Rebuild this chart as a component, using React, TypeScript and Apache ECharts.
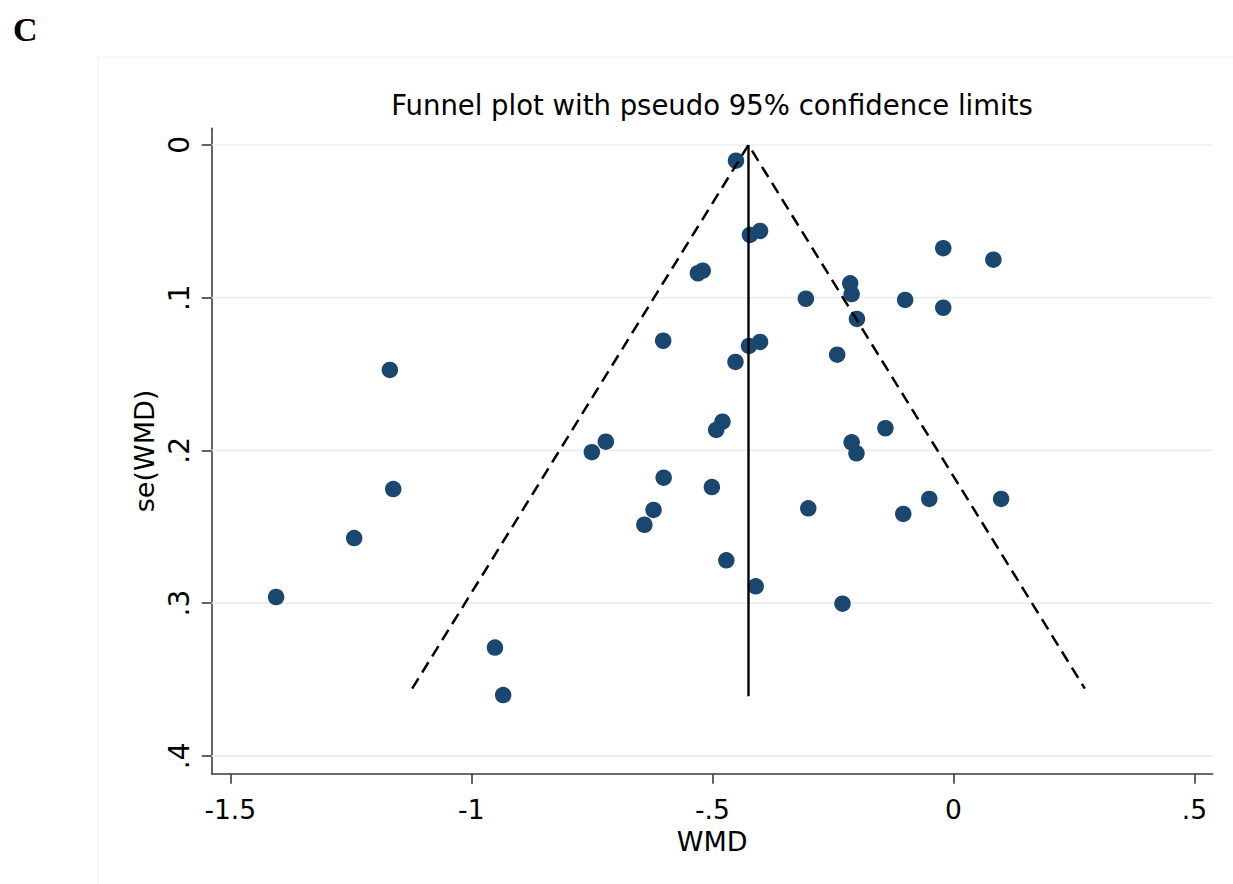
import React, { useEffect, useRef } from 'react';
import * as echarts from 'echarts';

// Study estimates (WMD) and their standard errors
const wmd = [
  -0.451, -0.422, -0.401, -0.530, -0.520, -0.021, 0.083, -0.214, -0.211, -0.306,
  -0.100, -0.021, -0.200, -0.602, -0.424, -0.401, -0.241, -0.452, -1.169, -0.479,
  -0.492, -0.141, -0.721, -0.750, -0.211, -0.201, -0.601, -1.162, -0.501, -0.622,
  -0.641, -0.301, -0.104, -0.050, 0.099, -1.243, -0.471, -0.410, -1.405, -0.230,
  -0.951, -0.934,
];
const seWmd = [
  0.0103, 0.0589, 0.0563, 0.0840, 0.0823, 0.0676, 0.0751, 0.0906, 0.0976, 0.1007,
  0.1015, 0.1066, 0.1139, 0.1282, 0.1316, 0.1290, 0.1373, 0.1421, 0.1473, 0.1812,
  0.1866, 0.1855, 0.1943, 0.2012, 0.1947, 0.2019, 0.2179, 0.2253, 0.2240, 0.2390,
  0.2487, 0.2379, 0.2416, 0.2318, 0.2318, 0.2574, 0.2720, 0.2890, 0.2960, 0.3004,
  0.3291, 0.3602,
];
const xTicks = [-1.5, -1, -0.5, 0, 0.5];
const yTicks = [0, 0.1, 0.2, 0.3, 0.4];
const pooled = -0.425;
const ciSeEnd = 0.356;
const lineSeEnd = 0.361;
const zCrit = 1.96;

const X_MIN = -1.5386;
const X_MAX = 0.538;
const Y_MIN = -0.0109;
const Y_MAX = 0.4117;

const FONT = 'DejaVu Sans';

const fmt = (v: number) => (v === 0 ? '0' : String(v).replace('0.', '.'));

export default function App() {
  const ref = useRef<HTMLDivElement>(null);
  useEffect(() => {
    if (!ref.current) return;
    const chart = echarts.init(ref.current, undefined, { renderer: 'svg' });
    const points = wmd.map((x, i) => [x, seWmd[i]]);
    const gridSeries = yTicks.map((v) => ({
      type: 'line',
      data: [
        [X_MIN, v],
        [X_MAX, v],
      ],
      symbol: 'none',
      silent: true,
      z: 1,
      lineStyle: { color: '#e6eef2', width: 1.6 },
    }));
    const option: any = {
      animation: false,
      backgroundColor: '#ffffff',
      title: {
        text: 'Funnel plot with pseudo 95% confidence limits',
        left: 712,
        top: 91,
        padding: 0,
        textAlign: 'center',
        textStyle: { fontFamily: FONT, fontSize: 27.5, fontWeight: 'normal', color: '#000' },
      },
      graphic: [
        {
          type: 'rect',
          shape: { x: 98, y: 57, width: 1200, height: 900 },
          style: { fill: 'none', stroke: '#f0f0f0', lineWidth: 1 },
          z: -10,
          silent: true,
        },
        {
          type: 'text',
          x: 13,
          y: 29,
          style: {
            text: 'C',
            fontFamily: 'Liberation Serif',
            fontWeight: 'bold',
            fontSize: 34,
            fill: '#000',
            verticalAlign: 'middle',
            align: 'left',
          },
        },
      ],
      grid: { left: 211.7, right: 20.3, top: 128.3, bottom: 110.3, containLabel: false },
      xAxis: {
        type: 'value',
        min: X_MIN,
        max: X_MAX,
        name: 'WMD',
        nameLocation: 'middle',
        nameGap: 50,
        nameTextStyle: { fontFamily: FONT, fontSize: 27, color: '#000' },
        axisLine: { onZero: false, lineStyle: { color: '#3c3c3c', width: 1.6 } },
        axisTick: { show: true, length: 10, customValues: xTicks, lineStyle: { color: '#3c3c3c', width: 1.6 } },
        axisLabel: { customValues: xTicks, formatter: fmt, margin: 22, fontSize: 26.5, fontFamily: FONT, color: '#000' },
        splitLine: { show: false },
      },
      yAxis: {
        type: 'value',
        inverse: true,
        min: Y_MIN,
        max: Y_MAX,
        name: 'se(WMD)',
        nameLocation: 'middle',
        nameGap: 45,
        nameTextStyle: { fontFamily: FONT, fontSize: 27, color: '#000' },
        axisLine: { onZero: false, lineStyle: { color: '#3c3c3c', width: 1.6 } },
        axisTick: { show: true, length: 10, customValues: yTicks, lineStyle: { color: '#3c3c3c', width: 1.6 } },
        axisLabel: { customValues: yTicks, formatter: fmt, rotate: 90, margin: 18, fontSize: 28, fontFamily: FONT, color: '#000' },
        splitLine: { show: false },
      },
      series: [
        ...gridSeries,
        {
          type: 'scatter',
          data: points,
          symbol: 'circle',
          symbolSize: 16.5,
          itemStyle: { color: '#1a476f', opacity: 1 },
          z: 3,
        },
        {
          type: 'line',
          data: [
            [pooled, 0],
            [pooled, lineSeEnd],
          ],
          symbol: 'none',
          lineStyle: { color: '#000', width: 2.4 },
          z: 4,
        },
        {
          type: 'line',
          data: [
            [pooled - zCrit * ciSeEnd, ciSeEnd],
            [pooled, 0],
            [pooled + zCrit * ciSeEnd, ciSeEnd],
          ],
          symbol: 'none',
          lineStyle: { color: '#000', width: 2.5, type: [12, 7] },
          z: 4,
        },
      ],
    };
    chart.setOption(option);
    return () => chart.dispose();
  }, []);
  return (
    <div
      ref={ref}
      style={{ position: 'absolute', left: 0, top: 0, width: 1233, height: 884 }}
    />
  );
}
